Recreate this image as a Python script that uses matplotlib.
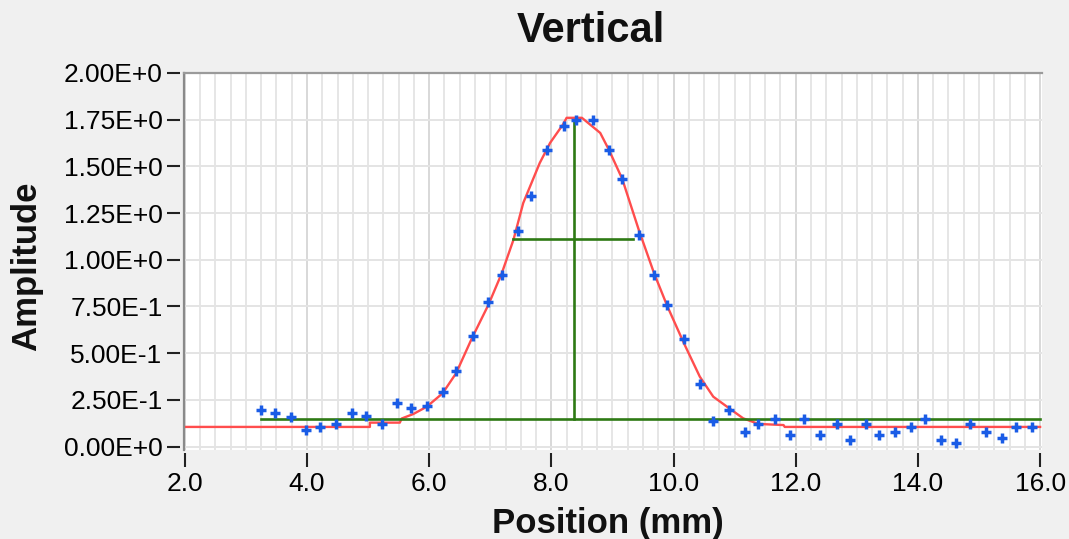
import numpy as np
import matplotlib
matplotlib.use("Agg")
import matplotlib.pyplot as plt
from matplotlib.ticker import MultipleLocator, FixedLocator

# measured profile (blue crosses)
POS = [3.25, 3.47, 3.74, 3.99, 4.22, 4.47, 4.74, 4.96, 5.22, 5.48, 5.70, 5.96,
       6.23, 6.44, 6.71, 6.97, 7.19, 7.45, 7.67, 7.93, 8.20, 8.41, 8.68, 8.94,
       9.16, 9.43, 9.68, 9.90, 10.17, 10.43, 10.65, 10.91, 11.17, 11.39, 11.66,
       11.91, 12.14, 12.39, 12.67, 12.88, 13.15, 13.36, 13.62, 13.88, 14.11,
       14.37, 14.63, 14.85, 15.12, 15.38, 15.60, 15.86]
AMP = [0.193, 0.177, 0.159, 0.091, 0.105, 0.120, 0.177, 0.162, 0.120, 0.234,
       0.205, 0.219, 0.291, 0.405, 0.591, 0.776, 0.919, 1.156, 1.344, 1.590,
       1.718, 1.747, 1.747, 1.590, 1.433, 1.131, 0.919, 0.760, 0.576, 0.336,
       0.136, 0.193, 0.077, 0.120, 0.148, 0.062, 0.148, 0.062, 0.120, 0.034,
       0.120, 0.062, 0.077, 0.105, 0.148, 0.034, 0.020, 0.120, 0.077, 0.048,
       0.105, 0.105]

# fitted curve (red)
FIT_X = [2.0, 5.03, 5.03, 5.52, 5.55, 5.74, 5.96, 6.22, 6.44, 6.70, 6.97, 7.19,
         7.38, 7.54, 7.81, 7.98, 8.19, 8.25, 8.50, 8.80, 8.94, 9.16, 9.43, 9.68,
         9.90, 10.17, 10.43, 10.65, 10.91, 11.14, 11.39, 11.80, 11.82, 16.0]
FIT_Y = [0.105, 0.105, 0.128, 0.128, 0.150, 0.174, 0.213, 0.285, 0.392, 0.580,
         0.759, 0.929, 1.107, 1.304, 1.518, 1.626, 1.724, 1.760, 1.760, 1.679,
         1.590, 1.433, 1.161, 0.929, 0.750, 0.553, 0.374, 0.267, 0.205, 0.151,
         0.121, 0.115, 0.105, 0.105]

# green markers: baseline, centre line, width line
BASE_Y = 0.148
BASE_X = [3.25, 16.0]
CENTER_X = 8.375
PEAK_Y = 1.75
HALF_Y = 1.113
HALF_X = [7.38, 9.34]

YTICKS = [0.0, 0.25, 0.5, 0.75, 1.0, 1.25, 1.5, 1.75, 2.0]
YLABELS = ["0.00E+0", "2.50E-1", "5.00E-1", "7.50E-1", "1.00E+0",
           "1.25E+0", "1.50E+0", "1.75E+0", "2.00E+0"]
XTICKS = [2.0, 4.0, 6.0, 8.0, 10.0, 12.0, 14.0, 16.0]
XLABELS = ["2.0", "4.0", "6.0", "8.0", "10.0", "12.0", "14.0", "16.0"]

plt.rcParams.update({"font.family": "Liberation Sans"})
BG = "#f0f0f0"
fig = plt.figure(figsize=(10.69, 5.39), dpi=100, facecolor=BG)
ax = fig.add_axes([0.1717, 0.166, 0.8030, 0.6986])
ax.set_facecolor("white")

ax.set_xlim(1.98, 16.03)
ax.set_ylim(-0.016, 2.0)

# grid every 0.25 both ways, majors on x a touch darker
ax.xaxis.set_major_locator(FixedLocator(XTICKS))
ax.xaxis.set_minor_locator(MultipleLocator(0.25))
ax.yaxis.set_major_locator(FixedLocator(YTICKS))
ax.set_xticklabels(XLABELS)
ax.set_yticklabels(YLABELS)
ax.grid(True, which="major", axis="x", color="#d8d8d8", lw=1.4)
ax.grid(True, which="minor", axis="x", color="#e6e6e6", lw=1.4)
ax.grid(True, which="major", axis="y", color="#e4e4e4", lw=1.4)
ax.set_axisbelow(True)

for s in ax.spines.values():
    s.set_visible(False)
ax.spines["left"].set_position(("outward", 2.2))
ax.spines["bottom"].set_position(("outward", 2.6))
# gray frame on left and top only
ax.plot([0, 0], [0, 1], transform=ax.transAxes, color="#8a8a8a", lw=1.6,
        clip_on=False, zorder=6)
ax.plot([0, 1], [1, 1], transform=ax.transAxes, color="#9a9a9a", lw=1.6,
        clip_on=False, zorder=6)

ax.tick_params(axis="x", which="major", direction="out", length=10, width=1.5,
               color="#222222", labelsize=19, pad=3.5)
ax.tick_params(axis="x", which="minor", length=0)
ax.tick_params(axis="y", which="major", direction="out", length=9.4, width=1.5,
               color="#222222", labelsize=19, pad=3.6)

ax.plot(FIT_X, FIT_Y, color="#ff4d4d", lw=1.7, zorder=3)
ax.plot(BASE_X, [BASE_Y, BASE_Y], color="#2e7a14", lw=1.9, zorder=4)
ax.plot([CENTER_X, CENTER_X], [BASE_Y, PEAK_Y], color="#2e7a14", lw=1.9, zorder=4)
ax.plot(HALF_X, [HALF_Y, HALF_Y], color="#2e7a14", lw=1.9, zorder=4)
ax.plot(POS, AMP, ls="none", marker="+", ms=7, mew=2.5, color="#1a5ce6",
        zorder=5)

fig.text(591 / 1069, 1 - 31 / 539, "Vertical", ha="center", va="center",
         fontsize=30, fontweight="bold", color="#111111")
fig.text(608 / 1069, 1 - 523 / 539, "Position (mm)", ha="center", va="center",
         fontsize=25, fontweight="bold", color="#111111")
fig.text(27 / 1069, 1 - 266 / 539, "Amplitude", ha="center", va="center",
         rotation=90, fontsize=25, fontweight="bold", color="#111111")

fig.savefig("out.png", dpi=100, facecolor=BG)
